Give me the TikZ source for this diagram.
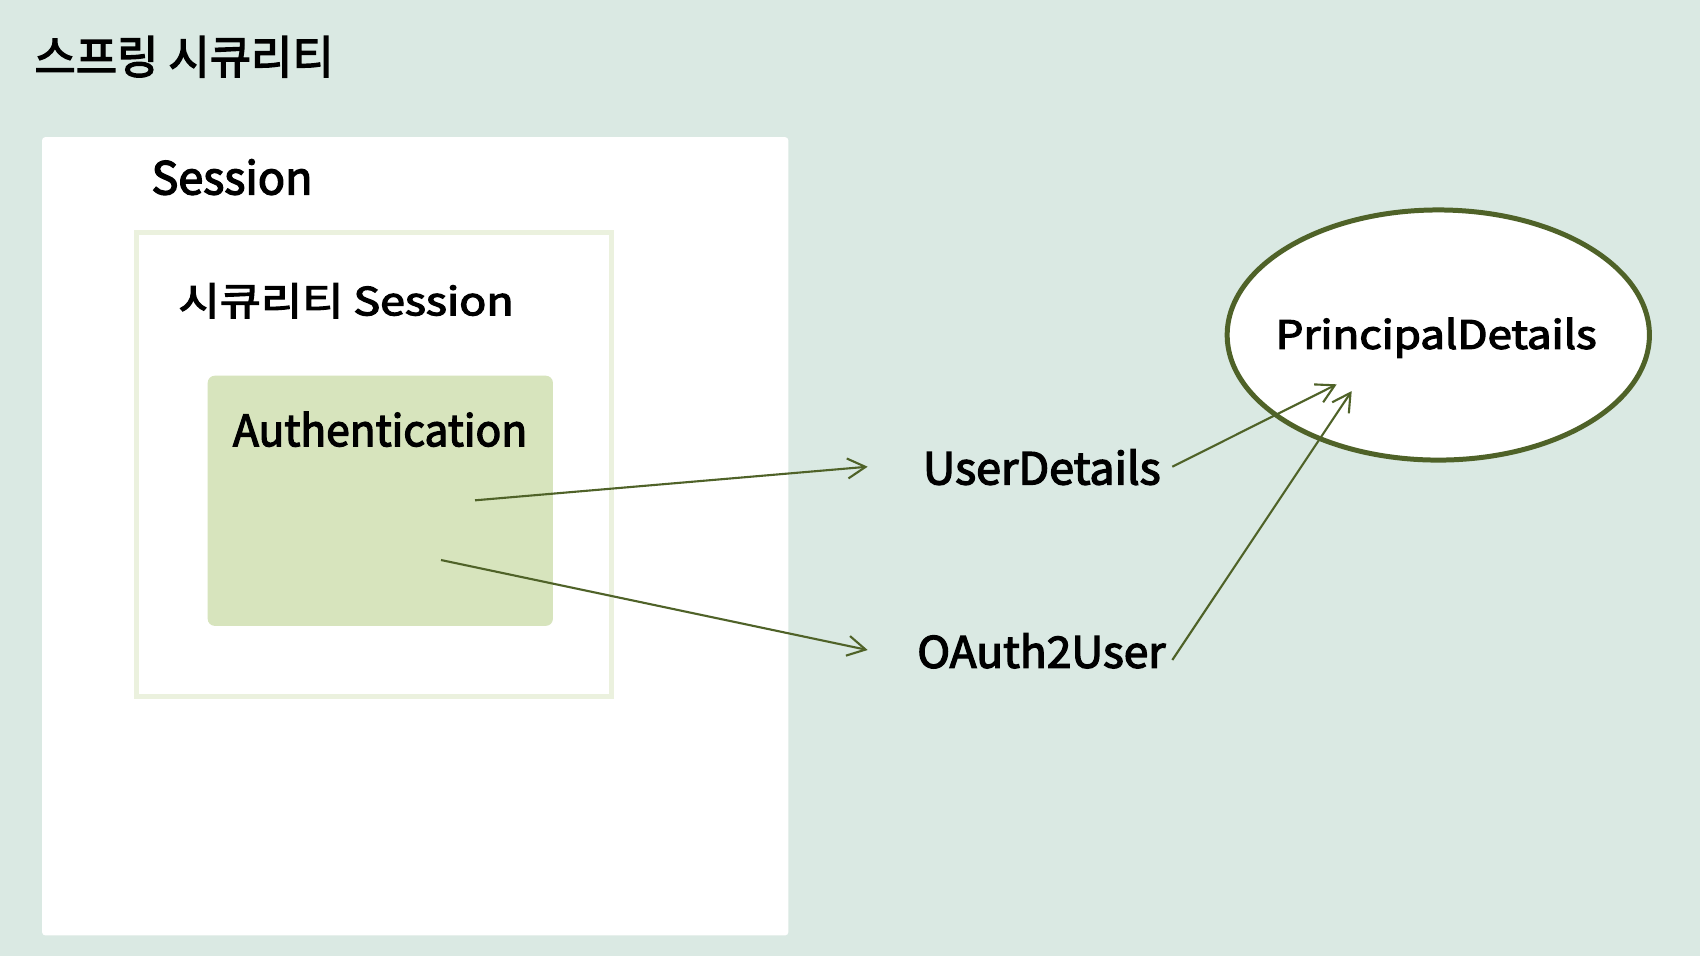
\documentclass[tikz,border=0pt]{standalone}
\usepackage{fontspec}
\setmainfont{Noto Sans CJK KR}
\newfontfamily\semibold{Noto Sans CJK KR}[FakeBold=3]
\usepackage{graphicx}
\usetikzlibrary{arrows.meta,shapes.geometric}
\definecolor{bgmint}{RGB}{218,233,227}
\definecolor{olivedark}{HTML}{4F6228}
\definecolor{olivelight}{HTML}{EBF1DE}
\definecolor{olivemid}{HTML}{D7E4BD}
\newcommand{\fitbox}[3]{\resizebox*{#1}{#2}{#3}}
\begin{document}
\begin{tikzpicture}[x=0.01cm,y=-0.01cm,
  txt/.style={inner sep=0pt,outer sep=0pt,anchor=north west,text=black,font=\semibold},
  conn/.style={draw=olivedark,line width=0.6pt,-{Straight Barb[length=0.18cm,width=0.2cm,line width=0.6pt]}},
  ]
\useasboundingbox (0,0) rectangle (1700,956);
\fill[bgmint] (0,0) rectangle (1700,956);
% outer session box
\node[fill=white,inner sep=0pt,outer sep=0pt,minimum width=7.46cm,minimum height=7.98cm,anchor=north west,rounded corners=1pt] (sess) at (42,137) {};
% security session box
\node[fill=white,draw=olivelight,line width=1.42pt,inner sep=0pt,outer sep=0pt,minimum width=4.75cm,minimum height=4.635cm,anchor=north west] (secsess) at (136.5,232.5) {};
% authentication box
\node[fill=olivemid,inner sep=0pt,outer sep=0pt,minimum width=3.45cm,minimum height=2.5cm,anchor=north west,rounded corners=2pt] (auth) at (207.7,375.7) {};
% principal ellipse
\node[ellipse,fill=white,draw=olivedark,line width=1.42pt,inner sep=0pt,minimum width=4.22cm,minimum height=2.5cm] (pd) at (1438.3,335) {};
% texts
\node[txt] (title) at (34.5,36) {\fitbox{2.99cm}{0.413cm}{스프링 시큐리티}};
\node[txt] (sesst) at (151.5,159.3) {\fitbox{1.61cm}{0.357cm}{Session}};
\node[txt] (secst) at (178.5,283.3) {\fitbox{3.35cm}{0.35cm}{시큐리티 Session}};
\node[txt] (autht) at (233,411.7) {\fitbox{2.94cm}{0.35cm}{Authentication}};
\node[txt] (udt) at (923,449.3) {\fitbox{2.375cm}{0.357cm}{UserDetails}};
\node[txt] (oat) at (917.3,633.3) {\fitbox{2.48cm}{0.35cm}{OAuth2User}};
\node[txt] (pdt) at (1275.7,317.7) {\fitbox{3.207cm}{0.40cm}{PrincipalDetails}};
% connector end points
\coordinate (a1s) at (475,500.3);
\coordinate (a1e) at (867.7,466.7);
\coordinate (a2s) at (441,560);
\coordinate (a2e) at (867.7,650);
\coordinate (a3s) at (1172.3,466.7);
\coordinate (a3e) at (1336.7,384.3);
\coordinate (a4s) at (1172.3,660);
\coordinate (a4e) at (1351.7,391);
\draw[conn] (a1s) -- (a1e);
\draw[conn] (a2s) -- (a2e);
\draw[conn] (a3s) -- (a3e);
\draw[conn] (a4s) -- (a4e);
\end{tikzpicture}
\end{document}
